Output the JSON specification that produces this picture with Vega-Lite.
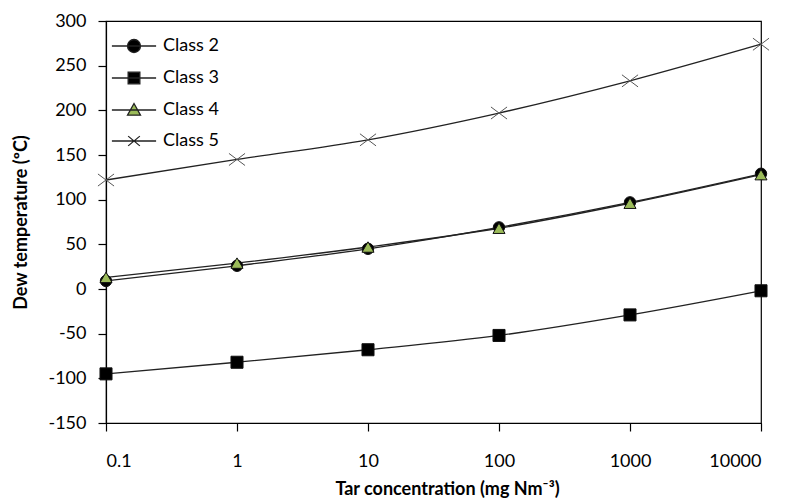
{
  "$schema": "https://vega.github.io/schema/vega-lite/v6.json",
  "width": 655,
  "height": 402,
  "autosize": "none",
  "padding": {"left": 106, "top": 21, "right": 28, "bottom": 81},
  "background": "white",
  "config": {
    "view": {"stroke": "black", "strokeWidth": 1.2},
    "font": "Lato",
    "axis": {"grid": false, "domainColor": "black", "tickColor": "black", "labelColor": "black", "titleColor": "black", "labelFont": "Lato", "titleFont": "Lato", "labelFontSize": 18, "titleFontSize": 18, "titleFontWeight": "bold", "tickSize": 8, "domainWidth": 1.2, "tickWidth": 1.2}
  },
  "data": {
    "values": [
      {"class": "Class 2", "tar": 0.1, "dew": 9},
      {"class": "Class 2", "tar": 1, "dew": 26},
      {"class": "Class 2", "tar": 10, "dew": 45},
      {"class": "Class 2", "tar": 100, "dew": 69},
      {"class": "Class 2", "tar": 1000, "dew": 97},
      {"class": "Class 2", "tar": 10000, "dew": 129},
      {"class": "Class 3", "tar": 0.1, "dew": -95},
      {"class": "Class 3", "tar": 1, "dew": -82},
      {"class": "Class 3", "tar": 10, "dew": -68},
      {"class": "Class 3", "tar": 100, "dew": -52},
      {"class": "Class 3", "tar": 1000, "dew": -29},
      {"class": "Class 3", "tar": 10000, "dew": -2},
      {"class": "Class 4", "tar": 0.1, "dew": 13},
      {"class": "Class 4", "tar": 1, "dew": 29},
      {"class": "Class 4", "tar": 10, "dew": 47},
      {"class": "Class 4", "tar": 100, "dew": 68},
      {"class": "Class 4", "tar": 1000, "dew": 96},
      {"class": "Class 4", "tar": 10000, "dew": 128},
      {"class": "Class 5", "tar": 0.1, "dew": 122},
      {"class": "Class 5", "tar": 1, "dew": 145},
      {"class": "Class 5", "tar": 10, "dew": 167},
      {"class": "Class 5", "tar": 100, "dew": 197},
      {"class": "Class 5", "tar": 1000, "dew": 233},
      {"class": "Class 5", "tar": 10000, "dew": 274}
    ]
  },
  "encoding": {
    "x": {
      "field": "tar", "type": "quantitative",
      "scale": {"type": "log", "domain": [0.1, 10000], "nice": false},
      "axis": {"values": [0.1, 1, 10, 100, 1000, 10000], "format": "~g", "title": "Tar concentration (mg Nm⁻³)", "labelPadding": 21, "titlePadding": 10, "titleX": 341}
    },
    "y": {
      "field": "dew", "type": "quantitative",
      "scale": {"domain": [-150, 300], "nice": false},
      "axis": {"values": [-150, -100, -50, 0, 50, 100, 150, 200, 250, 300], "labelExpr": "'' + datum.value", "title": "Dew temperature (ºC)", "labelPadding": 12, "titlePadding": 17}
    }
  },
  "layer": [
    {
      "mark": {"type": "line", "interpolate": "monotone", "color": "#222222", "strokeWidth": 1.3},
      "encoding": {"detail": {"field": "class", "type": "nominal"}}
    },
    {
      "mark": {"type": "point", "filled": true, "opacity": 1, "strokeWidth": 1},
      "encoding": {
        "shape": {
          "condition": [
            {"test": "datum['class'] === 'Class 3'", "value": "square"},
            {"test": "datum['class'] === 'Class 4'", "value": "triangle-up"},
            {"test": "datum['class'] === 'Class 5'", "value": "M-1,-0.75L1,0.75M-1,0.75L1,-0.75"}
          ],
          "value": "circle"
        },
        "size": {
          "condition": [
            {"test": "datum['class'] === 'Class 5'", "value": 260},
            {"test": "datum['class'] === 'Class 2'", "value": 130}
          ],
          "value": 145
        },
        "fill": {
          "condition": [
            {"test": "datum['class'] === 'Class 4'", "value": "#9BBB59"},
            {"test": "datum['class'] === 'Class 5'", "value": "transparent"}
          ],
          "value": "black"
        },
        "stroke": {
          "condition": [
            {"test": "datum['class'] === 'Class 5'", "value": "#555555"}
          ],
          "value": "#111111"
        }
      }
    },
    {
      "transform": [{"filter": "datum.tar > 1000000"}],
      "mark": {"type": "point", "filled": true, "opacity": 1, "stroke": "#222222", "strokeWidth": 1.3},
      "encoding": {
        "shape": {
          "field": "class", "type": "nominal",
          "scale": {"domain": ["Class 2", "Class 3", "Class 4", "Class 5"], "range": ["M-3.4,0H3.4M1,0A1,1,0,1,1,-1,0A1,1,0,1,1,1,0Z", "M-3.4,0H3.4M-0.9,-0.9H0.9V0.9H-0.9Z", "M-3.4,0H3.4M0,-1L1,0.8H-1Z", "M-3.4,0H3.4M-0.9,-0.75L0.9,0.75M-0.9,0.75L0.9,-0.75"]},
          "legend": {
            "title": null,
            "orient": "none",
            "legendX": 19,
            "legendY": 16,
            "padding": 0,
            "symbolSize": 169,
            "symbolStrokeWidth": 1.3,
            "labelOffset": 20,
            "labelFontSize": 18,
            "labelFont": "Lato",
            "labelColor": "black",
            "rowPadding": 13
          }
        },
        "color": {
          "field": "class", "type": "nominal",
          "scale": {"domain": ["Class 2", "Class 3", "Class 4", "Class 5"], "range": ["black", "black", "#9BBB59", "transparent"]},
          "legend": {
            "title": null,
            "orient": "none",
            "legendX": 19,
            "legendY": 16,
            "padding": 0,
            "symbolSize": 169,
            "symbolStrokeWidth": 1.3,
            "labelOffset": 20,
            "labelFontSize": 18,
            "labelFont": "Lato",
            "labelColor": "black",
            "rowPadding": 13
          }
        }
      }
    }
  ]
}
